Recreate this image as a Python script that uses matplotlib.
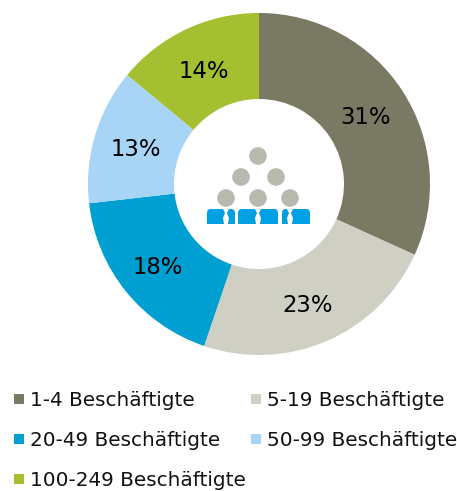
import matplotlib
matplotlib.use("Agg")
import matplotlib.pyplot as plt
from matplotlib.patches import Circle, FancyBboxPatch, Polygon, Rectangle

categories = ["1-4 Beschäftigte", "5-19 Beschäftigte", "20-49 Beschäftigte",
              "50-99 Beschäftigte", "100-249 Beschäftigte"]
shares = [31.8, 23.4, 18.0, 12.8, 14.0]
labels = ["31%", "23%", "18%", "13%", "14%"]
colors = ["#7A7964", "#CFCFC4", "#009FD1", "#A8D4F5", "#A4BF30"]

W, H = 457, 491
fig = plt.figure(figsize=(W / 100, H / 100), dpi=100)
ax = fig.add_axes([0, 0, 1, 1])
plt.rcParams["font.family"] = "DejaVu Sans"


def Y(py):
    return H - py


wedges, _ = ax.pie(shares, colors=colors, startangle=90, counterclock=False,
                   center=(259, Y(184)), radius=171, frame=True,
                   wedgeprops=dict(width=86, linewidth=0))
ax.set_xlim(0, W)
ax.set_ylim(0, H)
ax.set_aspect("equal")
ax.axis("off")

label_pos = [(366, 117), (308, 306), (158, 267), (136, 149), (204, 71)]
for s, (x, y) in zip(labels, label_pos):
    ax.text(x, Y(y), s, ha="center", va="center", fontsize=16.4, color="#000000")

# centre icon
heads = [(258, 156), (241, 177), (276, 177), (226, 198), (258, 198), (290, 198)]
for x, y in heads:
    ax.add_patch(Circle((x, Y(y)), 8.8, fc="#B9B9AF", ec="none"))
bodies = [(207, 235), (238, 278), (282, 310)]
for x0, x1 in bodies:
    ax.add_patch(FancyBboxPatch((x0, Y(224)), x1 - x0, 15,
                                boxstyle="round,pad=0,rounding_size=4",
                                fc="#00A0E3", ec="none"))
    ax.add_patch(Rectangle((x0, Y(224)), x1 - x0, 6, fc="#00A0E3", ec="none"))
for xc in (226, 258, 290):
    ax.add_patch(Polygon([(xc - 3, Y(209)), (xc + 3, Y(209)), (xc + 1, Y(213)),
                          (xc + 3, Y(218)), (xc + 2, Y(224)), (xc - 2, Y(224)),
                          (xc - 3, Y(218)), (xc - 1, Y(213))],
                         fc="white", ec="none"))

# legend
legend_pos = [(14, 400), (251, 400), (14, 440), (251, 440), (14, 480)]
for name, c, (x, y) in zip(categories, colors, legend_pos):
    ax.add_patch(Rectangle((x, Y(y + 4)), 10, 10, fc=c, ec="none"))
    ax.text(x + 16, Y(y + 1), name, ha="left", va="center", fontsize=14.4, color="#111111")

fig.savefig("out.png", dpi=100)
